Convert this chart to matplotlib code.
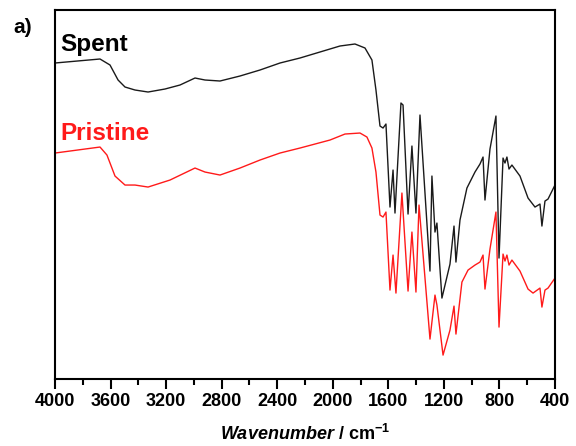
import matplotlib
matplotlib.use("Agg")
import matplotlib.pyplot as plt
from matplotlib.ticker import MultipleLocator

plt.rcParams['font.family'] = ['Liberation Sans', 'DejaVu Sans']
plt.rcParams['mathtext.fontset'] = 'custom'
plt.rcParams['mathtext.rm'] = 'Liberation Sans:bold'
plt.rcParams['mathtext.it'] = 'Liberation Sans:bold:italic'
plt.rcParams['mathtext.bf'] = 'Liberation Sans:bold'

# spent catalyst spectrum (wavenumber, transmittance a.u.)
spent_wn = [4000, 3676, 3604, 3546, 3496, 3424, 3330, 3208, 3100, 2992, 2920, 2812,
            2668, 2524, 2380, 2236, 2092, 1948, 1840, 1768, 1718, 1689, 1660, 1638,
            1617, 1588, 1566, 1552, 1509, 1494, 1458, 1430, 1401, 1372, 1300, 1286,
            1264, 1250, 1214, 1156, 1127, 1113, 1084, 1034, 976, 940, 918, 904, 868,
            825, 803, 774, 760, 746, 731, 710, 652, 594, 544, 508, 494, 472, 450, 400]
spent_t = [316, 320, 314, 299, 292, 289, 287, 290, 294, 301, 299, 298,
           303, 309, 316, 321, 327, 333, 335, 331, 319, 289, 253, 251,
           255, 172, 209, 166, 276, 274, 165, 233, 166, 264, 108, 203,
           147, 156, 81, 115, 153, 117, 159, 191, 207, 215, 222, 179, 230,
           263, 121, 221, 216, 222, 210, 214, 203, 181, 172, 175, 153, 178, 180, 194]

# pristine catalyst spectrum
pristine_wn = [4000, 3676, 3626, 3568, 3496, 3424, 3330, 3172, 2992, 2920, 2812, 2668,
               2524, 2380, 2236, 2020, 1912, 1804, 1754, 1718, 1689, 1660, 1638, 1617,
               1588, 1566, 1545, 1502, 1458, 1430, 1401, 1379, 1300, 1264, 1250, 1206,
               1156, 1127, 1113, 1070, 1026, 976, 940, 918, 904, 868, 825, 803, 774,
               760, 746, 731, 710, 652, 594, 558, 508, 494, 472, 450, 400]
pristine_t = [226, 232, 224, 203, 194, 194, 192, 199, 211, 207, 204, 211,
              219, 226, 231, 239, 245, 246, 242, 231, 207, 164, 162, 167,
              89, 124, 86, 186, 88, 147, 87, 174, 40, 84, 74, 24,
              49, 73, 45, 97, 109, 114, 117, 124, 90, 130, 167, 52, 125,
              118, 124, 114, 119, 108, 90, 86, 91, 72, 89, 91, 101]

xticks = [4000, 3600, 3200, 2800, 2400, 2000, 1600, 1200, 800, 400]

fig = plt.figure(figsize=(5.76, 4.46), dpi=100)
ax = fig.add_axes([0.0955, 0.15, 0.868, 0.8276])

ax.plot(spent_wn, spent_t, color='#1a1a1a', lw=1.0)
ax.plot(pristine_wn, pristine_t, color='#ff1a1a', lw=1.0)

ax.set_xlim(4000, 400)
ax.set_ylim(0, 369)
ax.set_xticks(xticks)
ax.xaxis.set_minor_locator(MultipleLocator(200))
ax.set_yticks([])
ax.tick_params(axis='x', which='major', direction='out', length=7, width=1.5,
               labelsize=13, pad=3)
ax.tick_params(axis='x', which='minor', direction='out', length=4, width=1.5)
for lab in ax.get_xticklabels():
    lab.set_fontweight('bold')
for sp in ax.spines.values():
    sp.set_linewidth(1.5)

ax.set_xlabel(r"$\mathit{Wavenumber}$ / cm$^{-1}$", fontsize=13, fontweight='bold',
              labelpad=10)

ax.text(0.01, 0.889, 'Spent', transform=ax.transAxes, fontsize=17.5, fontweight='bold',
        color='black', va='baseline')
ax.text(0.01, 0.648, 'Pristine', transform=ax.transAxes, fontsize=17.5, fontweight='bold',
        color='#ff1a1a', va='baseline')
fig.text(0.0226, 0.926, 'a)', fontsize=15, fontweight='bold', va='baseline')

fig.savefig('out.png', dpi=100)
